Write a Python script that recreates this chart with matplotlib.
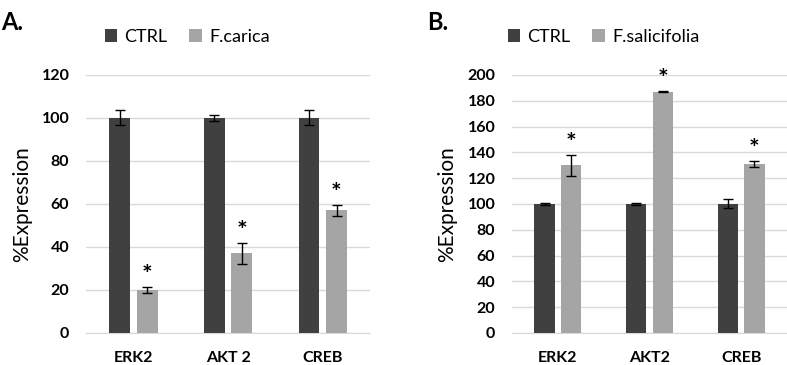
import matplotlib
matplotlib.use("Agg")
import matplotlib.pyplot as plt
import numpy as np

plt.rcParams["font.family"] = ["Lato", "DejaVu Sans"]

# Panel A data
genes_a = ["ERK2", "AKT 2", "CREB"]
ctrl_a = [100, 100, 100]
ctrl_a_err = [3.5, 1.5, 3.5]
carica = [20, 37, 57]
carica_err = [1.5, 5, 2.5]

# Panel B data
genes_b = ["ERK2", "AKT2", "CREB"]
ctrl_b = [100, 100, 100]
ctrl_b_err = [0.5, 0.5, 3.5]
salicifolia = [130, 187, 131]
salicifolia_err = [8, 0.5, 2.5]

DARK = "#404040"
LIGHT = "#a5a5a5"
GRID = "#d9d9d9"


def draw_panel(ax, genes, ctrl, ctrl_err, treat, treat_err, treat_label, ymax, step, fig, leg_x):
    x = np.arange(len(genes))
    w = 0.22
    off = 0.145
    ekw = dict(ecolor="black", elinewidth=1, capsize=3.5, capthick=1)
    ax.bar(x - off, ctrl, w, yerr=ctrl_err, color=DARK, error_kw=ekw, label="CTRL", zorder=3)
    ax.bar(x + off, treat, w, yerr=treat_err, color=LIGHT, error_kw=ekw, label=treat_label, zorder=3)
    for xi, v, e in zip(x, treat, treat_err):
        ax.annotate("*", (xi + off, v + e), xytext=(0, 0), textcoords="offset points",
                    ha="center", va="bottom", fontsize=18, fontweight="bold")
    ax.set_xlim(-0.5, len(genes) - 0.5)
    ax.set_ylim(0, ymax)
    ax.set_yticks(np.arange(0, ymax + 1, step))
    ax.set_xticks(x)
    ax.set_xticklabels(genes)
    ax.grid(axis="y", color=GRID, linewidth=1, zorder=0)
    for s in ["top", "right", "left"]:
        ax.spines[s].set_visible(False)
    ax.spines["bottom"].set_color(GRID)
    ax.tick_params(axis="both", length=0, labelsize=11.5)
    ax.tick_params(axis="x", pad=13)
    ax.tick_params(axis="y", pad=12)
    for lab in ax.get_xticklabels() + ax.get_yticklabels():
        lab.set_fontweight("bold")
    ax.set_ylabel("%Expression", fontsize=15)
    ax.legend(loc="center left", bbox_to_anchor=(leg_x, 0.899), bbox_transform=fig.transFigure,
              ncol=2, frameon=False, fontsize=13, handlelength=0.7, handleheight=0.7,
              handletextpad=0.4, columnspacing=1.2, borderpad=0, borderaxespad=0)


fig = plt.figure(figsize=(7.87, 3.65), dpi=100)
ax_a = fig.add_axes([0.1093, 0.0877, 0.361, 0.707])
ax_b = fig.add_axes([0.6506, 0.0877, 0.3494, 0.707])

draw_panel(ax_a, genes_a, ctrl_a, ctrl_a_err, carica, carica_err, "F.carica", 120, 20, fig, 0.133)
draw_panel(ax_b, genes_b, ctrl_b, ctrl_b_err, salicifolia, salicifolia_err, "F.salicifolia", 200, 20, fig, 0.645)
ax_a.yaxis.set_label_coords(-0.19, 0.5)
ax_b.yaxis.set_label_coords(-0.2, 0.5)

fig.text(0.002, 0.97, "A.", fontsize=17, fontweight="bold", va="top")
fig.text(0.5426, 0.97, "B.", fontsize=17, fontweight="bold", va="top")

fig.savefig("out.png", dpi=100)
